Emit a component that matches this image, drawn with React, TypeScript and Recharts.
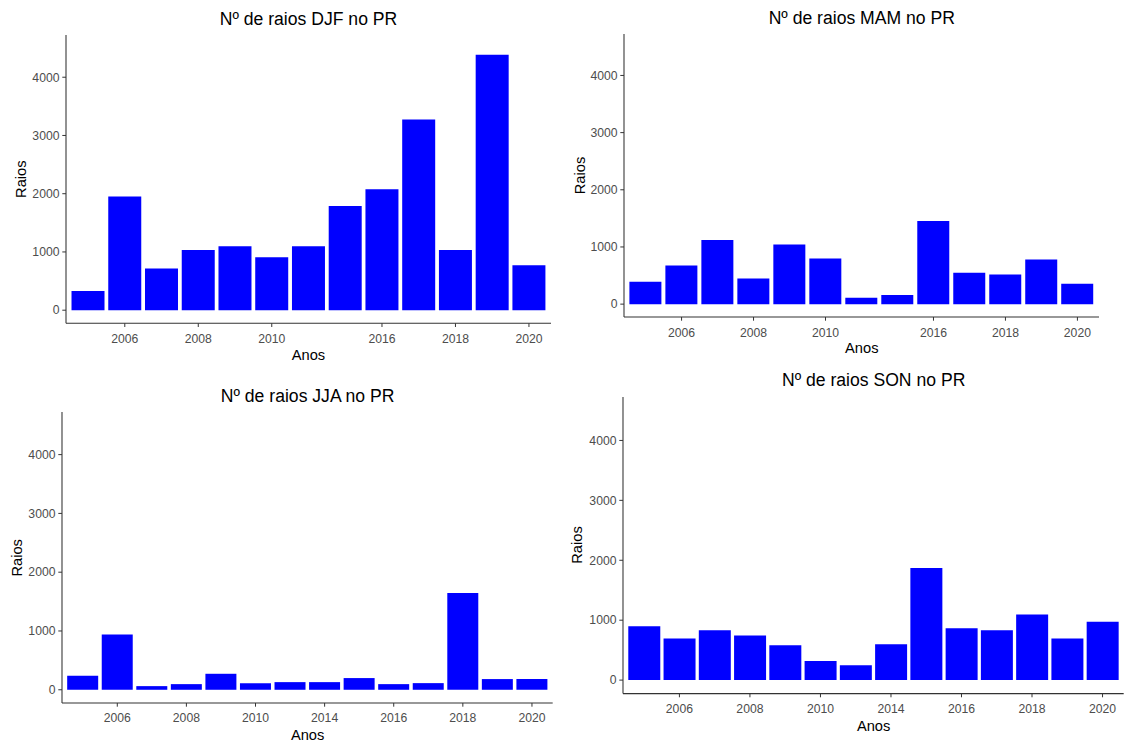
import { Bar, BarChart, XAxis, YAxis } from "recharts";

// anos presentes em cada estação (faltam alguns anos entre 2011 e 2015)
const djfYears = ["2005", "2006", "2007", "2008", "2009", "2010", "2011", "2015", "2016", "2017", "2018", "2019", "2020"];
const djfRaios = [330, 1950, 715, 1035, 1100, 910, 1100, 1790, 2075, 3275, 1035, 4385, 770];

const mamYears = ["2005", "2006", "2007", "2008", "2009", "2010", "2011", "2015", "2016", "2017", "2018", "2019", "2020"];
const mamRaios = [390, 675, 1120, 450, 1045, 800, 110, 160, 1455, 550, 520, 780, 355];

const jjaYears = ["2005", "2006", "2007", "2008", "2009", "2010", "2011", "2014", "2015", "2016", "2017", "2018", "2019", "2020"];
const jjaRaios = [238, 940, 62, 96, 272, 113, 130, 130, 199, 96, 113, 1645, 182, 182];

const sonYears = ["2005", "2006", "2007", "2008", "2009", "2010", "2011", "2014", "2015", "2016", "2017", "2018", "2019", "2020"];
const sonRaios = [900, 694, 833, 744, 583, 317, 250, 600, 1872, 867, 833, 1094, 694, 972];

const yTicks = [0, 1000, 2000, 3000, 4000];
const yDomain: [number, number] = [-225, 4725];

const FONT = '"Liberation Sans", Arial, sans-serif';
const AXIS = "#333333";
const TICK_TEXT = "#4d4d4d";

const panels = [
  { title: "Nº de raios DJF no PR", years: djfYears, values: djfRaios, left: 66, right: 551, top: 35, bottom: 323.3, titleY: 25, xLabelY: 360, yLabelX: 25.5 },
  { title: "Nº de raios MAM no PR", years: mamYears, values: mamRaios, left: 624.3, right: 1099.3, top: 34, bottom: 317, titleY: 24, xLabelY: 353, yLabelX: 585 },
  { title: "Nº de raios JJA no PR", years: jjaYears, values: jjaRaios, left: 62.3, right: 553, top: 412.3, bottom: 703.3, titleY: 401.5, xLabelY: 740, yLabelX: 21.5 },
  { title: "Nº de raios SON no PR", years: sonYears, values: sonRaios, left: 623.3, right: 1124, top: 396.7, bottom: 693.3, titleY: 385.5, xLabelY: 731, yLabelX: 581.5 },
];

function XTick(props: any) {
  const { x, y, payload } = props;
  if (Number(payload.value) % 2 !== 0) return <g />;
  return (
    <g>
      <line x1={x} x2={x} y1={y} y2={y + 3.7} stroke={AXIS} strokeWidth={1} />
      <text x={x} y={y + 19.5} textAnchor="middle" fill={TICK_TEXT} fontSize={12.2} fontFamily={FONT}>
        {payload.value}
      </text>
    </g>
  );
}

function YTick(props: any) {
  const { x, y, payload } = props;
  return (
    <g>
      <line x1={x - 3.7} x2={x} y1={y} y2={y} stroke={AXIS} strokeWidth={1} />
      <text x={x - 6.5} y={y + 4.3} textAnchor="end" fill={TICK_TEXT} fontSize={12.2} fontFamily={FONT}>
        {payload.value}
      </text>
    </g>
  );
}

function Panel({ p }: { p: (typeof panels)[number] }) {
  const data = p.years.map((year, i) => ({ year, raios: p.values[i] }));
  const plotW = p.right - p.left;
  const plotH = p.bottom - p.top;
  const unit = plotW / (p.years.length + 0.2);
  const pad = unit * 0.1;
  return (
    <div style={{ position: "absolute", left: p.left - 50, top: p.top - 5 }}>
      <BarChart
        width={plotW + 52}
        height={plotH + 30}
        data={data}
        margin={{ top: 5, right: 2, bottom: 0, left: 0 }}
        barCategoryGap="5%"
      >
        <XAxis
          dataKey="year"
          type="category"
          interval={0}
          height={25}
          padding={{ left: pad, right: pad }}
          tickSize={0}
          tickMargin={0}
          tickLine={false}
          axisLine={{ stroke: AXIS, strokeWidth: 1.07 }}
          tick={<XTick />}
        />
        <YAxis
          type="number"
          width={50}
          domain={yDomain}
          allowDataOverflow
          ticks={yTicks}
          tickSize={0}
          tickMargin={0}
          tickLine={false}
          axisLine={{ stroke: AXIS, strokeWidth: 1.07 }}
          tick={<YTick />}
        />
        <Bar dataKey="raios" fill="#0000ff" isAnimationActive={false} />
      </BarChart>
    </div>
  );
}

export default function App() {
  return (
    <div style={{ position: "absolute", left: 0, top: 0, width: 1126, height: 745, background: "#fff", fontFamily: FONT }}>
      {panels.map((p) => (
        <Panel key={p.title} p={p} />
      ))}
      <svg width={1126} height={745} style={{ position: "absolute", left: 0, top: 0, pointerEvents: "none" }}>
        {panels.map((p) => {
          const cx = (p.left + p.right) / 2;
          const cy = (p.top + p.bottom) / 2;
          return (
            <g key={p.title} fontFamily={FONT} fill="#000">
              <text x={cx} y={p.titleY} textAnchor="middle" fontSize={17.6}>
                {p.title}
              </text>
              <text x={cx} y={p.xLabelY} textAnchor="middle" fontSize={14.67}>
                Anos
              </text>
              <text transform={`translate(${p.yLabelX},${cy}) rotate(-90)`} textAnchor="middle" fontSize={14.67}>
                Raios
              </text>
            </g>
          );
        })}
      </svg>
    </div>
  );
}
